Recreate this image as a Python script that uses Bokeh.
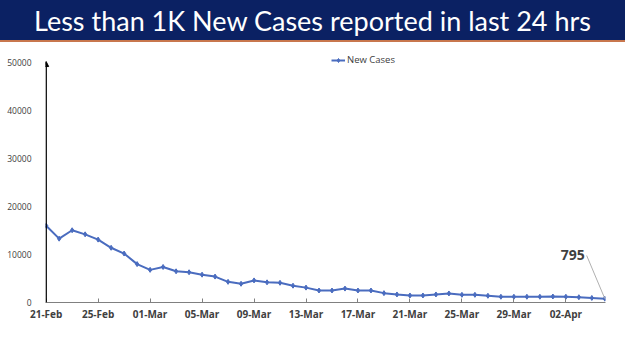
from bokeh.plotting import figure
from bokeh.models import (Div, FixedTicker, NumeralTickFormatter, Arrow, NormalHead,
                          Label, Legend, LegendItem, ColumnDataSource)
from bokeh.layouts import column
from bokeh.embed import file_html
from bokeh.resources import INLINE

title_text = "Less than 1K New Cases reported in last 24 hrs"
series_name = "New Cases"

dates = ["21-Feb", "22-Feb", "23-Feb", "24-Feb", "25-Feb", "26-Feb", "27-Feb", "28-Feb",
         "01-Mar", "02-Mar", "03-Mar", "04-Mar", "05-Mar", "06-Mar", "07-Mar", "08-Mar",
         "09-Mar", "10-Mar", "11-Mar", "12-Mar", "13-Mar", "14-Mar", "15-Mar", "16-Mar",
         "17-Mar", "18-Mar", "19-Mar", "20-Mar", "21-Mar", "22-Mar", "23-Mar", "24-Mar",
         "25-Mar", "26-Mar", "27-Mar", "28-Mar", "29-Mar", "30-Mar", "31-Mar", "01-Apr",
         "02-Apr", "03-Apr", "04-Apr", "05-Apr"]
new_cases = [16000, 13300, 15050, 14200, 13100, 11400, 10200, 8000,
             6800, 7400, 6500, 6300, 5800, 5400, 4300, 3900,
             4600, 4200, 4100, 3500, 3100, 2500, 2500, 2900,
             2500, 2500, 1950, 1670, 1460, 1460, 1670, 1880,
             1600, 1600, 1400, 1200, 1200, 1200, 1200, 1250,
             1200, 1100, 950, 795]
y_ticks = [0, 10000, 20000, 30000, 40000, 50000]
x_tick_labels = ["21-Feb", "25-Feb", "01-Mar", "05-Mar", "09-Mar", "13-Mar",
                 "17-Mar", "21-Mar", "25-Mar", "29-Mar", "02-Apr"]

idx = list(range(len(dates)))
src = ColumnDataSource(dict(x=idx, y=new_cases))

banner = Div(text=title_text, width=625, height=42,
             styles={"background-color": "#0b2163", "color": "white",
                     "font-family": "Lato", "font-size": "27px",
                     "text-align": "center", "line-height": "41px",
                     "width": "625px", "height": "41px",
                     "border-bottom": "2px solid #c8774e", "margin": "0",
                     "white-space": "nowrap"})

y_max = 52500
p = figure(width=625, height=307, output_backend="svg", toolbar_location=None,
           x_range=(-0.05, len(dates) - 1 + 0.05), y_range=(0, y_max),
           min_border_left=45, min_border_right=20, min_border_top=8,
           min_border_bottom=47)
p.outline_line_color = None
p.xgrid.grid_line_color = None
p.ygrid.grid_line_color = None

line_color = "#4a6cbf"
r_line = p.line("x", "y", source=src, line_color=line_color, line_width=2)
r_pts = p.scatter("x", "y", source=src, marker="diamond", size=5,
                  fill_color=line_color, line_color=line_color)

p.yaxis.ticker = FixedTicker(ticks=y_ticks)
p.yaxis.formatter = NumeralTickFormatter(format="0")
p.yaxis.major_tick_line_color = None
p.yaxis.minor_tick_line_color = None
p.yaxis.axis_line_color = None
p.yaxis.major_label_text_font = "Open Sans"
p.yaxis.major_label_text_font_size = "8.5px"
p.yaxis.major_label_text_color = "#404040"
p.yaxis.major_label_standoff = 8

tick_pos = [dates.index(d) for d in x_tick_labels]
p.xaxis.ticker = FixedTicker(ticks=tick_pos)
p.xaxis.major_label_overrides = {i: dates[i] for i in tick_pos}
p.xaxis.minor_tick_line_color = None
p.xaxis.major_tick_in = 4
p.xaxis.major_tick_out = 0
p.xaxis.major_tick_line_color = "#808080"
p.xaxis.axis_line_color = "#808080"
p.xaxis.axis_line_width = 1
p.xaxis.major_label_text_font = "Open Sans"
p.xaxis.major_label_text_font_style = "bold"
p.xaxis.major_label_text_font_size = "10px"
p.xaxis.major_label_text_color = "#404040"
p.xaxis.major_label_standoff = 4

# y axis line drawn as an arrow up to the top tick
p.add_layout(Arrow(end=NormalHead(size=5, fill_color="black", line_color="black"),
                   x_start=0, y_start=0, x_end=0, y_end=y_ticks[-1] + 200,
                   line_color="black", line_width=1.5))

last_x = idx[-1]
last_y = new_cases[-1]
lab_x = last_x - 1.4
lab_y = last_y + 9000
p.segment(x0=[lab_x], y0=[lab_y], x1=[last_x], y1=[last_y],
          line_color="#b0b0b0", line_width=1)
p.add_layout(Label(x=lab_x - 0.15, y=lab_y, text=f"{last_y}", text_align="right",
                   text_baseline="middle", text_font="Open Sans",
                   text_font_style="bold", text_font_size="14px",
                   text_color="#404040"))

legend = Legend(items=[LegendItem(label=series_name, renderers=[r_line, r_pts])],
                location=(286, 236), orientation="horizontal",
                label_text_font="Open Sans", label_text_font_size="9.5px",
                label_text_color="#404040", glyph_width=14, glyph_height=10,
                padding=0, margin=0, spacing=0, label_standoff=2,
                background_fill_alpha=0, border_line_color=None)
p.add_layout(legend)

layout = column(banner, p, spacing=0)
open("out.html", "w").write(file_html(layout, INLINE))
